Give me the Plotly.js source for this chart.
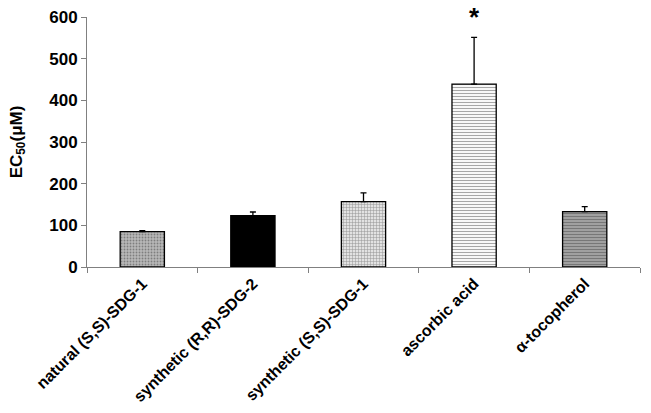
<!DOCTYPE html>
<html>
<head>
<meta charset="utf-8">
<script src="https://cdn.plot.ly/plotly-3.0.1.min.js"></script>
<style>
  html, body { margin: 0; padding: 0; background: #fff; }
  #chart { width: 651px; height: 413px; }
</style>
</head>
<body>
<div id="chart"></div>
<script>
// EC50 values
const compounds = ['natural (S,S)-SDG-1', 'synthetic (R,R)-SDG-2', 'synthetic (S,S)-SDG-1', 'ascorbic acid', '\u03b1-tocopherol'];
const ec50 = [85, 123, 157, 439, 133];
const ec50Err = [2, 9, 21, 112, 12];
const noErr = [0, 0, 0, 0, 0];

// fill styles, one per bar (imitating the grey hatch patterns)
const fillBg = ['#b8b8b8', '#000000', '#e2e2e2', '#f8f8f8', '#a0a0a0'];
const fillFg = ['#7a7a7a', '#000000', '#a8a8a8', '#f0f0f0', '#555555'];
const fillShape = ['.', '', '+', '-', '-'];

const fontFamily = 'Liberation Sans, Arial, sans-serif';

const trace = {
    type: 'bar',
    x: compounds,
    y: ec50,
    width: 0.4,
    marker: {
        color: fillBg,
        line: { color: '#000', width: 1.3 },
        pattern: { shape: fillShape, fgcolor: fillFg, fillmode: 'overlay', size: 3, solidity: 0.3 }
    },
    error_y: {
        type: 'data',
        symmetric: false,
        array: ec50Err,
        arrayminus: noErr,
        color: '#000',
        thickness: 1.3,
        width: 3
    },
    hoverinfo: 'none'
};

const layout = {
    width: 651,
    height: 413,
    margin: { l: 87, r: 11, t: 17, b: 146 },
    paper_bgcolor: '#fff',
    plot_bgcolor: '#fff',
    showlegend: false,
    bargap: 0.6,
    xaxis: {
        type: 'category',
        showgrid: false,
        showline: true,
        linecolor: '#808080',
        linewidth: 1,
        ticks: 'outside',
        tickson: 'boundaries',
        ticklen: 5,
        tickcolor: '#808080',
        tickangle: -45,
        tickfont: { family: fontFamily, size: 16, color: '#000', weight: 'bold' },
        zeroline: false
    },
    yaxis: {
        range: [0, 600],
        dtick: 100,
        showgrid: false,
        showline: true,
        linecolor: '#808080',
        linewidth: 1,
        ticks: 'outside',
        ticklen: 5,
        tickcolor: '#808080',
        tickfont: { family: fontFamily, size: 17, color: '#000', weight: 'bold' },
        zeroline: false,
        title: { text: 'EC<sub>50</sub>(\u03bcM)', font: { family: fontFamily, size: 17, color: '#000', weight: 'bold' }, standoff: 22 }
    },
    annotations: [{
        x: 'ascorbic acid',
        y: 600,
        xref: 'x',
        yref: 'y',
        text: '*',
        showarrow: false,
        yanchor: 'middle',
        font: { family: fontFamily, size: 26, color: '#000', weight: 'bold' }
    }]
};

Plotly.newPlot('chart', [trace], layout, { staticPlot: true, displayModeBar: false });
</script>
</body>
</html>
